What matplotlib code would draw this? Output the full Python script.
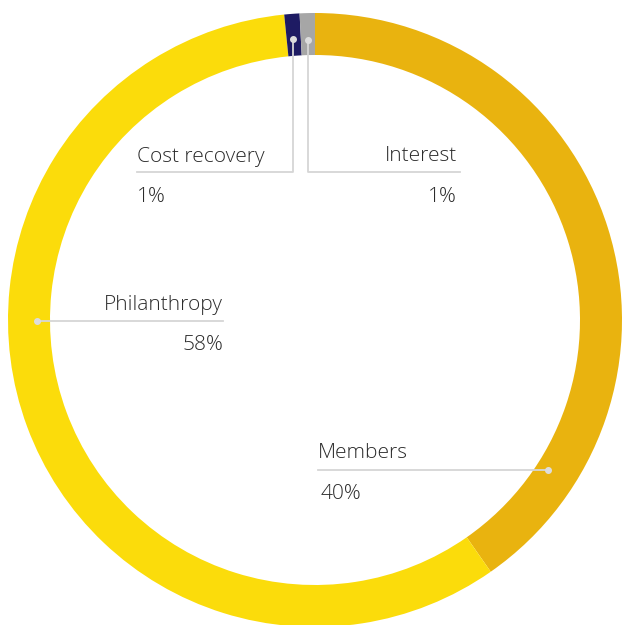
import matplotlib
matplotlib.use("Agg")
import matplotlib.pyplot as plt

labels = ["Members", "Philanthropy", "Cost recovery", "Interest"]
values = [40.3, 58.1, 0.8, 0.8]
pct_labels = ["40%", "58%", "1%", "1%"]
colors = ["#E9B30F", "#FBDC0B", "#1E1B63", "#A6A6A6"]

W, H = 622, 625
fig = plt.figure(figsize=(W / 100, H / 100), dpi=100)
ax = fig.add_axes([0, 0, 1, 1])

cx, cy = 315, H - 320
R = 307
ax.pie(values, colors=colors, startangle=90, counterclock=False,
       center=(cx, cy), radius=R, frame=True,
       wedgeprops=dict(width=42, linewidth=0))
ax.set_aspect("auto")
ax.set_xlim(0, W)
ax.set_ylim(0, H)
ax.axis("off")

def Y(y):
    return H - y

lc = "#D6D6D6"
font = dict(family="Open Sans", fontweight=300, fontsize=15, color="#2B2B2B")

# Cost recovery
ax.plot([293, 293, 137], [Y(39), Y(172), Y(172)], color=lc, lw=1.3, zorder=3)
ax.plot(293, Y(39), "o", color="#DDDDDD", ms=4, zorder=4)
ax.text(137, Y(157), labels[2], ha="left", va="center", **font)
ax.text(137, Y(197), pct_labels[2], ha="left", va="center", **font)

# Interest
ax.plot([308, 308, 460], [Y(40), Y(172), Y(172)], color=lc, lw=1.3, zorder=3)
ax.plot(308, Y(40), "o", color="#DDDDDD", ms=4, zorder=4)
ax.text(457, Y(156), labels[3], ha="right", va="center", **font)
ax.text(457, Y(197), pct_labels[3], ha="right", va="center", **font)

# Philanthropy
ax.plot([37, 223], [Y(321), Y(321)], color=lc, lw=1.3, zorder=3)
ax.plot(37, Y(321), "o", color="#DDDDDD", ms=4, zorder=4)
ax.text(223, Y(305), labels[1], ha="right", va="center", **font)
ax.text(223, Y(345), pct_labels[1], ha="right", va="center", **font)

# Members
ax.plot([318, 548], [Y(470), Y(470)], color=lc, lw=1.3, zorder=3)
ax.plot(548, Y(470), "o", color="#DDDDDD", ms=4, zorder=4)
ax.text(318, Y(453), labels[0], ha="left", va="center", **font)
ax.text(321, Y(494), pct_labels[0], ha="left", va="center", **font)

fig.savefig("out.png", dpi=100)
